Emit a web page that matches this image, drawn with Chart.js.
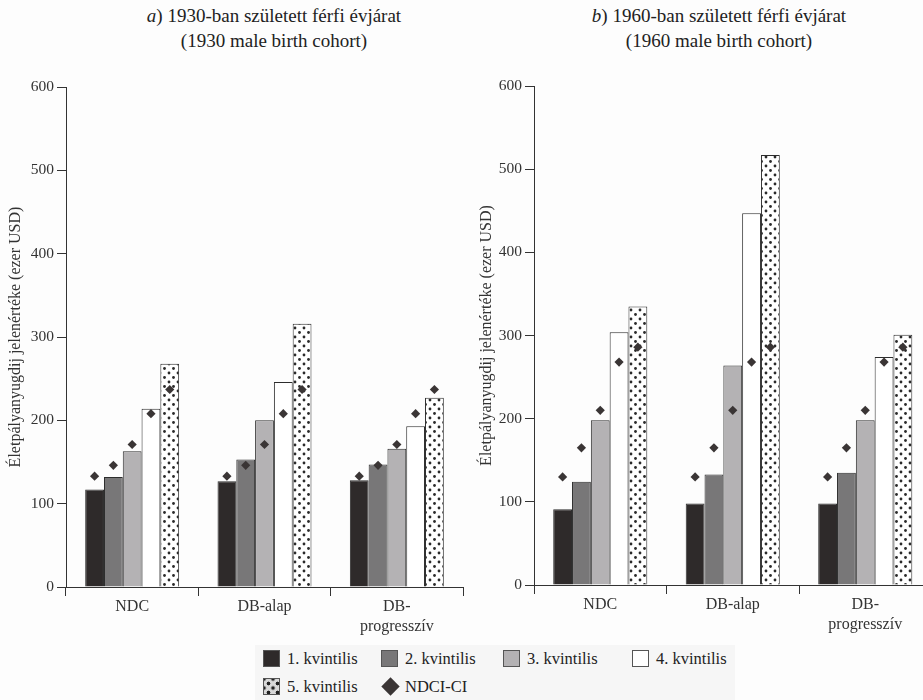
<!DOCTYPE html>
<html>
<head>
<meta charset="utf-8">
<script src="https://cdn.jsdelivr.net/npm/chart.js@4.4.1/dist/chart.umd.min.js"></script>
<style>
  html, body { margin: 0; padding: 0; background: #fdfdfd; overflow: hidden; }
  body { width: 923px; height: 700px; position: relative; font-family: "Liberation Serif", "Times New Roman", serif; color: #222; }
  .title { position: absolute; top: 3px; width: 440px; text-align: center; font-size: 19px; line-height: 25px; }
  canvas { position: absolute; }
  .legend { position: absolute; left: 255px; top: 645px; width: 480px; height: 55px; background: #f6f6f6; }
  .item { position: absolute; font-size: 16.5px; line-height: 18px; white-space: nowrap; }
  .sw { display: inline-block; width: 17px; height: 17px; vertical-align: top; margin-right: 7px; box-sizing: border-box; border: 1px solid #555; }
  .dots { background-color: #d8d8d8; background-image: radial-gradient(circle, #222 1.6px, transparent 2.2px), radial-gradient(circle, #222 1.6px, transparent 2.2px); background-size: 9px 9px; background-position: 0 0, 4.5px 4.5px; }
  .dia { display: inline-block; width: 13px; height: 13px; background: #3a3535; transform: rotate(45deg); margin: 2px 8px 0 5px; vertical-align: top; }
</style>
</head>
<body>
<div class="title" style="left:54px"><i>a</i>) 1930-ban született férfi évjárat<br>(1930 male birth cohort)</div>
<div class="title" style="left:499px"><i>b</i>) 1960-ban született férfi évjárat<br>(1960 male birth cohort)</div>

<canvas id="left" width="470" height="580" style="left:0;top:60px"></canvas>
<canvas id="right" width="480" height="580" style="left:462px;top:60px"></canvas>

<div class="legend"></div>
<div class="item" style="left:263px;top:650px"><span class="sw" style="background:#2e2a2a"></span>1. kvintilis</div>
<div class="item" style="left:381px;top:650px"><span class="sw" style="background:#787778"></span>2. kvintilis</div>
<div class="item" style="left:503px;top:650px"><span class="sw" style="background:#b4b2b4"></span>3. kvintilis</div>
<div class="item" style="left:632px;top:650px"><span class="sw" style="background:#fff"></span>4. kvintilis</div>
<div class="item" style="left:263px;top:678px"><span class="sw dots"></span>5. kvintilis</div>
<div class="item" style="left:379px;top:678px"><span class="dia"></span>NDCI-CI</div>

<script>
// categories and series (ezer USD)
const categories = ['NDC', 'DB-alap', ['DB-', 'progresszív']];
const quintiles = ['1. kvintilis', '2. kvintilis', '3. kvintilis', '4. kvintilis', '5. kvintilis'];
const yTicks = [0, 100, 200, 300, 400, 500, 600];

// a) 1930 cohort, one value per category
const a_q1 = [117, 127, 128];
const a_q2 = [132, 153, 147];
const a_q3 = [163, 200, 166];
const a_q4 = [214, 246, 193];
const a_q5 = [268, 316, 227];
// NDCI-CI, one value per quintile (same in every category)
const a_ndci = [133, 146, 171, 208, 237];

// b) 1960 cohort
const b_q1 = [91, 98, 98];
const b_q2 = [124, 133, 135];
const b_q3 = [198, 264, 198];
const b_q4 = [304, 447, 274];
const b_q5 = [335, 517, 301];
const b_ndci = [130, 165, 210, 268, 286];

const serif = '"Liberation Serif", "Times New Roman", serif';

function dotPattern(ctx) {
  const c = document.createElement('canvas');
  c.width = 9; c.height = 9;
  const g = c.getContext('2d');
  g.fillStyle = '#fff';
  g.fillRect(0, 0, 9, 9);
  g.fillStyle = '#2a2a2a';
  [[2.5, 2.5], [7, 7]].forEach(([x, y]) => {
    g.beginPath(); g.arc(x, y, 1.4, 0, Math.PI * 2); g.fill();
  });
  return ctx.createPattern(c, 'repeat');
}

// NDCI-CI diamonds: one per quintile bar, at the y scale value
const diamonds = {
  id: 'diamonds',
  afterDatasetsDraw(chart, args, opts) {
    const ctx = chart.ctx;
    const y = chart.scales.y;
    ctx.save();
    ctx.fillStyle = '#3a3535';
    opts.values.forEach((v, k) => {
      chart.getDatasetMeta(k).data.forEach(bar => {
        Chart.helpers.drawPoint(ctx, { pointStyle: 'rectRot', radius: 4.6, rotation: 0, borderWidth: 0 }, bar.x, y.getPixelForValue(v));
      });
    });
    ctx.restore();
  },
};

function makeChart(id, series, ndci, o) {
  const canvas = document.getElementById(id);
  const ctx = canvas.getContext('2d');
  const fills = ['#2e2a2a', '#787778', '#b4b2b4', '#ffffff', dotPattern(ctx)];
  return new Chart(canvas, {
    type: 'bar',
    data: {
      labels: categories,
      datasets: series.map((data, k) => ({
        label: quintiles[k], data, backgroundColor: fills[k],
        borderColor: '#2d2d2d', borderWidth: 1,
      })),
    },
    plugins: [diamonds],
    options: {
      responsive: false,
      animation: false,
      categoryPercentage: 0.71,
      barPercentage: 1,
      layout: { padding: { top: o.top, right: o.right, left: 0, bottom: 0 } },
      plugins: { legend: { display: false }, tooltip: { enabled: false }, diamonds: { values: ndci } },
      scales: {
        x: {
          grid: { offset: true, drawOnChartArea: false, tickLength: 9, color: '#333' },
          border: { color: '#333' },
          ticks: { color: '#333', padding: 0, maxRotation: 0, autoSkip: false, font: { family: serif, size: 16, lineHeight: 1.3 } },
          afterFit: s => { s.height = o.xh; },
        },
        y: {
          min: 0, max: 600,
          afterBuildTicks: s => { s.ticks = yTicks.map(value => ({ value })); },
          grid: { drawOnChartArea: false, tickLength: 9, color: '#333' },
          border: { color: '#333' },
          ticks: { color: '#333', padding: 3, font: { family: serif, size: 15.5 } },
          title: {
            display: true, text: 'Életpályanyugdij jelenértéke (ezer USD)', color: '#333',
            font: { family: serif, size: 16, lineHeight: 1.2 }, padding: { top: o.tp, bottom: 0 },
          },
          afterFit: s => { s.width = o.yw; },
        },
      },
    },
  });
}

makeChart('left', [a_q1, a_q2, a_q3, a_q4, a_q5], a_ndci, { top: 27, right: 7, xh: 53, yw: 66, tp: 6.4 });
makeChart('right', [b_q1, b_q2, b_q3, b_q4, b_q5], b_ndci, { top: 26, right: 10.5, xh: 55, yw: 72, tp: 15.4 });
</script>
</body>
</html>
